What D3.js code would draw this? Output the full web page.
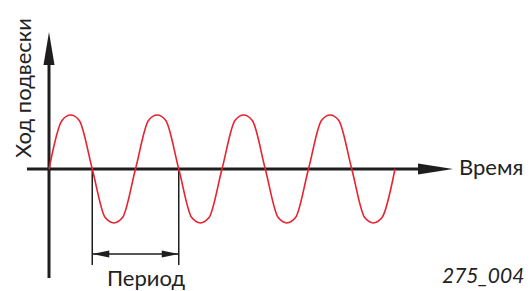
<!DOCTYPE html>
<html>
  <head>
    <meta charset="utf-8">
    <title>Ход подвески</title>
    <script src="https://cdn.jsdelivr.net/npm/d3@7"></script>
    <style>
      body { margin: 0; background: #fff; }
      svg { display: block; }
      text { font-family: "Lato", "Liberation Sans", sans-serif; fill: #222; }
    </style>
  </head>

  <body>
    <svg id="chart" width="530" height="291"></svg>

    <script>
      // data: time in periods, suspension travel in amplitudes
      var times = [
        0, 0.15, 0.25, 0.35, 0.5, 0.65, 0.75, 0.85,
        1, 1.15, 1.25, 1.35, 1.5, 1.65, 1.75, 1.85,
        2, 2.15, 2.25, 2.35, 2.5, 2.65, 2.75, 2.85,
        3, 3.15, 3.25, 3.35, 3.5, 3.65, 3.75, 3.85,
        4
      ];
      var travel = [
        0, 0.9, 1, 0.9, 0, -0.9, -1, -0.9,
        0, 0.9, 1, 0.9, 0, -0.9, -1, -0.9,
        0, 0.9, 1, 0.9, 0, -0.9, -1, -0.9,
        0, 0.9, 1, 0.9, 0, -0.9, -1, -0.9,
        0
      ];
      var periodMarks = [0.5, 1.5];
      var labels = {
        y: "Ход подвески",
        x: "Время",
        period: "Период",
        code: "275_004"
      };

      var chart = d3.select("#chart");

      // scales
      var x = d3.scaleLinear()
        .domain([0, 4])
        .range([49, 395]);
      var y = d3.scaleLinear()
        .domain([0, 1])
        .range([169, 115]);

      var xStart = x.invert(27), xEnd = x.invert(453);
      var yBottom = y.invert(278), yTop = y.invert(32);
      var ink = "#1e1e1e";

      // period bracket
      var pY = 254;
      periodMarks.forEach(function(t) {
        chart.append("line")
          .attr("x1", x(t)).attr("x2", x(t))
          .attr("y1", y(0)).attr("y2", 265)
          .attr("stroke", ink)
          .attr("stroke-width", 1.5);
      });
      chart.append("line")
        .attr("x1", x(periodMarks[0])).attr("x2", x(periodMarks[1]))
        .attr("y1", pY).attr("y2", pY)
        .attr("stroke", ink)
        .attr("stroke-width", 1.5);
      chart.append("path")
        .attr("d", "M" + x(periodMarks[0]) + "," + pY +
          "L" + (x(periodMarks[0]) + 17) + "," + (pY - 3.5) +
          "L" + (x(periodMarks[0]) + 17) + "," + (pY + 3.5) + "Z" +
          "M" + x(periodMarks[1]) + "," + pY +
          "L" + (x(periodMarks[1]) - 17) + "," + (pY - 3.5) +
          "L" + (x(periodMarks[1]) - 17) + "," + (pY + 3.5) + "Z")
        .attr("fill", ink);

      // axes
      chart.append("line")
        .attr("x1", x(xStart)).attr("x2", x(xEnd) - 20)
        .attr("y1", y(0)).attr("y2", y(0))
        .attr("stroke", ink)
        .attr("stroke-width", 3);
      chart.append("path")
        .attr("d", "M" + x(xEnd) + "," + y(0) +
          "L" + (x(xEnd) - 35) + "," + (y(0) - 5.5) +
          "L" + (x(xEnd) - 35) + "," + (y(0) + 5.5) + "Z")
        .attr("fill", ink);
      chart.append("line")
        .attr("x1", x(0)).attr("x2", x(0))
        .attr("y1", y(yBottom)).attr("y2", y(yTop) + 20)
        .attr("stroke", ink)
        .attr("stroke-width", 3);
      chart.append("path")
        .attr("d", "M" + x(0) + "," + y(yTop) +
          "L" + (x(0) - 5.5) + "," + (y(yTop) + 33) +
          "L" + (x(0) + 5.5) + "," + (y(yTop) + 33) + "Z")
        .attr("fill", ink);

      // wave
      var line = d3.line()
        .x(function(d, i) { return x(times[i]); })
        .y(function(d) { return y(d); })
        .curve(d3.curveMonotoneX);
      chart.append("path")
        .attr("d", line(travel))
        .attr("fill", "none")
        .attr("stroke", "#e8222e")
        .attr("stroke-width", 1.6);

      // labels
      chart.append("text")
        .attr("transform", "translate(31, 88) rotate(-90)")
        .attr("text-anchor", "middle")
        .style("font-size", "22px")
        .text(labels.y);
      chart.append("text")
        .attr("x", 459).attr("y", 175)
        .style("font-size", "22px")
        .text(labels.x);
      chart.append("text")
        .attr("x", 107).attr("y", 286)
        .style("font-size", "22px")
        .text(labels.period);
      chart.append("text")
        .attr("x", 442).attr("y", 283)
        .style("font-size", "21px")
        .style("font-style", "italic")
        .text(labels.code);
    </script>
  </body>
</html>
